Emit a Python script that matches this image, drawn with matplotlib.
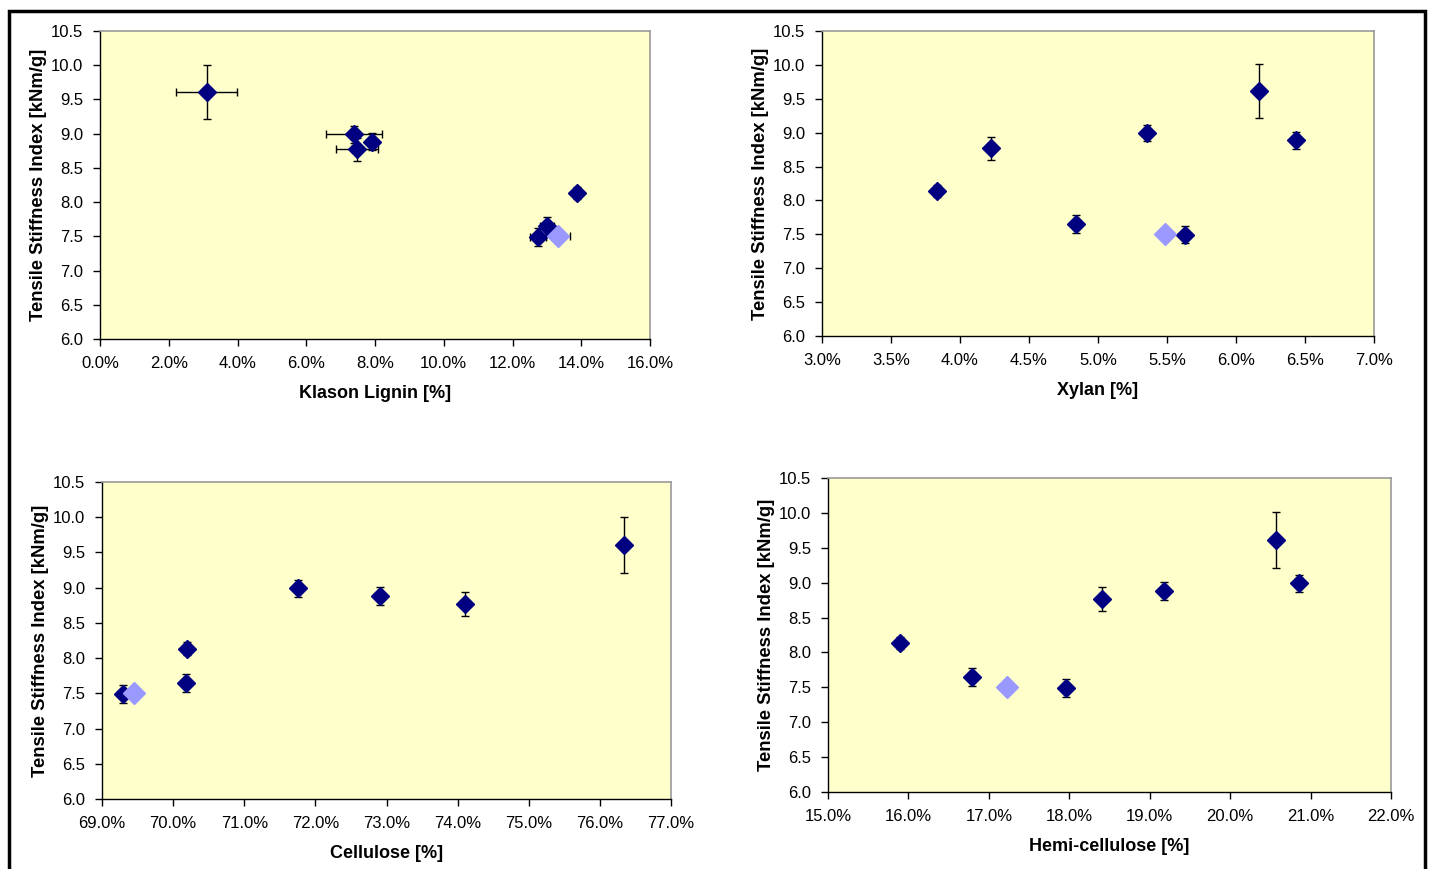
import matplotlib
matplotlib.use('Agg')
import matplotlib.pyplot as plt
from matplotlib.patches import Rectangle
from matplotlib.ticker import FuncFormatter, MultipleLocator

plt.rcParams['font.family'] = ['Liberation Sans', 'DejaVu Sans']

# tensile stiffness index [kNm/g] and its error, one entry per pulp sample
tsi = [9.61, 8.99, 8.885, 8.77, 8.135, 7.65, 7.495]
tsi_err = [0.40, 0.12, 0.13, 0.17, 0.09, 0.13, 0.13]
# light (reference) sample
tsi_ref = 7.50

lignin = [3.10, 7.38, 7.92, 7.48, 13.89, 13.00, 12.73]
lignin_err = [0.88, 0.82, 0.10, 0.61, 0.10, 0.20, 0.23]
lignin_ref = 13.32
lignin_ref_err = 0.35

xylan = [6.166, 5.353, 6.435, 4.225, 3.83, 4.84, 5.634]
xylan_ref = 5.486

cellulose = [76.34, 71.75, 72.91, 74.10, 70.20, 70.18, 69.29]
cellulose_ref = 69.45

hemi = [20.57, 20.85, 19.18, 18.41, 15.90, 16.79, 17.96]
hemi_ref = 17.23

W, H = 1432, 869
fig = plt.figure(figsize=(W / 100, H / 100), dpi=100)

# outer chart border
fig.patches.append(Rectangle((9 / W, -0.05), 1416 / W, (H - 11) / H + 0.05,
                             transform=fig.transFigure, fill=False,
                             edgecolor='black', linewidth=2.5))


def px_axes(left, top, right, bottom):
    return fig.add_axes([left / W, 1 - bottom / H, (right - left) / W, (bottom - top) / H])


def style(ax, xlim, xstep, xlabel):
    ax.set_facecolor('#FFFFCC')
    ax.set_xlim(*xlim)
    ax.set_ylim(6.0, 10.5)
    ax.xaxis.set_major_locator(MultipleLocator(xstep))
    ax.yaxis.set_major_locator(MultipleLocator(0.5))
    ax.xaxis.set_major_formatter(FuncFormatter(lambda v, p: f'{v:.1f}%'))
    ax.yaxis.set_major_formatter(FuncFormatter(lambda v, p: f'{v:.1f}'))
    for s in ['top', 'right']:
        ax.spines[s].set_color('#999999')
        ax.spines[s].set_linewidth(1.2)
    for s in ['left', 'bottom']:
        ax.spines[s].set_color('black')
        ax.spines[s].set_linewidth(1.0)
    ax.tick_params(direction='out', length=5, width=1, labelsize=12, pad=7)
    ax.set_xlabel(xlabel, fontsize=13, fontweight='bold', labelpad=10)
    ax.set_ylabel('Tensile Stiffness Index [kNm/g]', fontsize=13.3, fontweight='bold', labelpad=3)


def plot_points(ax, x, y, yerr, xerr=None, xref=None, xref_err=None):
    ax.errorbar(x, y, yerr=yerr, xerr=xerr, fmt='none', ecolor='black',
                elinewidth=1, capsize=3, capthick=1, zorder=2)
    ax.plot(x, y, linestyle='none', marker='D', markersize=9.5,
            color='#000080', zorder=3)
    if xref_err is not None:
        ax.errorbar([xref], [tsi_ref], xerr=[xref_err], fmt='none', ecolor='black',
                    elinewidth=1, capsize=3, capthick=1, zorder=2)
    ax.plot([xref], [tsi_ref], linestyle='none', marker='D', markersize=11.5,
            color='#9999FF', zorder=4)


ax1 = px_axes(100, 31, 650, 339)
style(ax1, (0, 16), 2, 'Klason Lignin [%]')
plot_points(ax1, lignin, tsi, tsi_err, xerr=lignin_err, xref=lignin_ref, xref_err=lignin_ref_err)

ax2 = px_axes(822, 31, 1374, 336)
style(ax2, (3, 7), 0.5, 'Xylan [%]')
plot_points(ax2, xylan, tsi, tsi_err, xref=xylan_ref)

ax3 = px_axes(102, 482, 671, 799)
style(ax3, (69, 77), 1, 'Cellulose [%]')
plot_points(ax3, cellulose, tsi, tsi_err, xref=cellulose_ref)

ax4 = px_axes(828, 478, 1391, 792)
style(ax4, (15, 22), 1, 'Hemi-cellulose [%]')
plot_points(ax4, hemi, tsi, tsi_err, xref=hemi_ref)

fig.savefig('out.png', dpi=100)
